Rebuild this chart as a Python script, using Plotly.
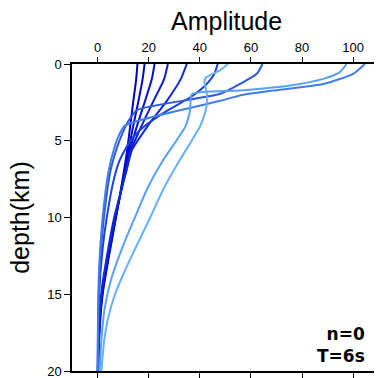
import plotly.graph_objects as go

# ---- data (amplitude vs depth, km) ----
depth_d1 = [0, 1, 2.4, 4, 5.6, 6.9, 8.5, 10, 12, 14.75, 17, 20]
amp_d1 = [15.6, 15.1, 14.0, 12.8, 11.6, 10.4, 8.8, 7.2, 5.0, 2.2, 0.9, 0.2]
depth_d2 = [0, 1, 2.4, 4, 5.6, 6.9, 8.5, 10, 12, 14.75, 17, 20]
amp_d2 = [18.4, 17.6, 16.0, 14.0, 12.1, 10.7, 8.9, 7.1, 4.9, 2.0, 0.8, 0.2]
depth_d3 = [0, 1, 2.4, 4, 5.6, 6.9, 8.5, 10, 12, 14.75, 17, 20]
amp_d3 = [22.3, 21.2, 18.6, 15.5, 12.6, 10.9, 8.9, 7.0, 4.7, 1.9, 0.7, 0.2]
depth_d4 = [0, 1, 2.4, 4, 5.6, 6.9, 8.5, 10, 12, 14.75, 17, 20]
amp_d4 = [27.5, 26.0, 21.9, 17.3, 13.1, 11.2, 8.9, 6.8, 4.5, 1.8, 0.7, 0.2]
depth_d5 = [0, 1, 2.4, 4, 5.6, 6.9, 8.5, 10, 12, 14.75, 17, 20]
amp_d5 = [34.9, 32.5, 27.1, 19.8, 13.5, 11.4, 8.8, 6.5, 4.2, 1.6, 0.6, 0.1]
depth_m1 = [0, 0.7, 1.5, 2.2, 3.2, 4.1, 5, 6.3, 7.5, 10, 12, 15, 20]
amp_m1 = [47, 45.5, 41.5, 36, 25.7, 18, 12.8, 8.6, 6.4, 3.6, 2.0, 0.6, 0.1]
depth_m2 = [0, 0.64, 1.3, 1.94, 3.0, 3.6, 4.4, 5.5, 7, 10, 13, 16, 20]
amp_m2 = [64.5, 62.3, 55.7, 48, 15.4, 12.5, 10, 7.5, 5, 2.5, 1, 0.3, 0.05]
depth_k104 = [0, 0.64, 1.3, 1.73, 2.05, 2.4, 4.0, 4.6, 5.5, 7, 10, 13, 16, 20]
amp_k104 = [104.6, 100, 88.3, 68.8, 55.7, 48, 10.8, 8.5, 6.5, 4.3, 2, 0.7, 0.2, 0]
depth_k97 = [0, 0.53, 0.97, 1.4, 1.73, 1.97, 3.0, 4.1, 5.0, 6.3, 8, 10, 12, 14.1, 16, 18, 20]
amp_k97 = [97.4, 94.8, 88.3, 75.3, 55.7, 36.9, 36.2, 34.3, 30.8, 25.5, 19.8, 14.6, 9.6, 5.2, 2.7, 1.5, 0.8]
depth_l1 = [0, 0.4, 0.88, 1.1, 1.85, 2.6, 3.3, 4.1, 5, 6.3, 8, 10, 12, 13.5, 15, 16.5, 18, 20]
amp_l1 = [51, 48, 42.5, 41.8, 42.7, 42.8, 41.8, 40, 36.8, 32, 26.2, 20.6, 14.8, 10.6, 6.8, 4.2, 2.6, 1.5]

x_ticks = [0, 20, 40, 60, 80, 100]
y_ticks = [0, 5, 10, 15, 20]

curves = [
    (amp_d1, depth_d1, "#0000cd"),
    (amp_d2, depth_d2, "#0208d0"),
    (amp_d3, depth_d3, "#0612d3"),
    (amp_d4, depth_d4, "#0a1cd6"),
    (amp_d5, depth_d5, "#1028da"),
    (amp_m1, depth_m1, "#1d3fdd"),
    (amp_m2, depth_m2, "#2d5ae3"),
    (amp_k104, depth_k104, "#3f7deb"),
    (amp_k97, depth_k97, "#58a0fa"),
    (amp_l1, depth_l1, "#66b0ff"),
]

fig = go.Figure()
for amp, dep, col in curves:
    fig.add_trace(go.Scatter(x=amp, y=dep, mode="lines",
                             line=dict(color=col, width=2, shape="spline", smoothing=0.6),
                             showlegend=False, hoverinfo="skip"))

font = "Liberation Sans, Arial, Helvetica, sans-serif"
axis_common = dict(showline=True, linecolor="black", linewidth=1.5, mirror="ticks",
                   ticks="outside", tickcolor="black", tickwidth=1, showgrid=False,
                   zeroline=False, ticklabeloverflow="allow",
                   tickfont=dict(family=font, size=13, color="black"))

# the page body adds an 8 px margin, so the figure is 8 px smaller on each axis
fig.update_layout(
    width=374, height=370,
    margin=dict(l=64, r=2, t=55.5, b=7, autoexpand=False),
    paper_bgcolor="white", plot_bgcolor="white",
    xaxis=dict(side="top", range=[-10, 110.5], tickvals=x_ticks, ticklen=5, **axis_common),
    yaxis=dict(range=[20, 0], tickvals=y_ticks, ticklen=6, **axis_common),
    annotations=[
        dict(text="Amplitude", xref="paper", yref="paper", x=0.5, y=1.141,
             xanchor="center", yanchor="middle", showarrow=False,
             font=dict(family=font, size=25, color="black")),
        dict(text="depth(km)", xref="paper", yref="paper", x=-0.171, y=0.5,
             xanchor="center", yanchor="middle", textangle=-90, showarrow=False,
             font=dict(family=font, size=25, color="black")),
        dict(text="<b>n=0</b><br><b>T=6s</b>", xref="paper", yref="paper", x=0.958, y=0.01,
             xanchor="right", yanchor="bottom", align="right", showarrow=False,
             font=dict(family="DejaVu Sans", size=17, color="black")),
    ],
)

fig.write_html("out.html")
